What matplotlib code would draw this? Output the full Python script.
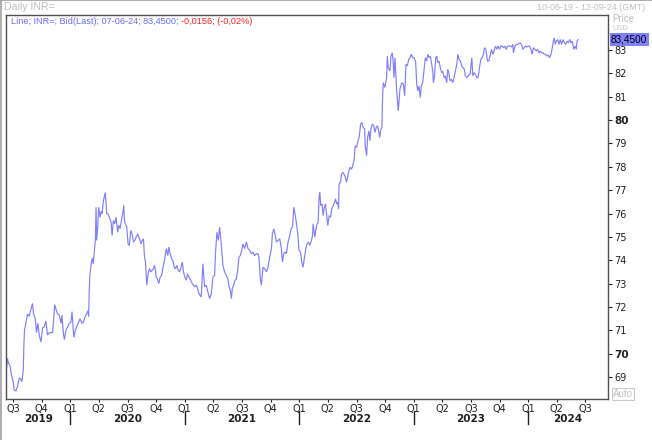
import matplotlib
matplotlib.use("Agg")
import matplotlib.pyplot as plt
import matplotlib.transforms as mtransforms
from datetime import date

# ---------------- data ----------------
title_left = "Daily INR="
title_right = "10-06-19 - 12-09-24 (GMT)"
legend_blue = "Line; INR=; Bid(Last); 07-06-24; 83,4500; "
legend_red = "-0,0156; (-0,02%)"
last_label = "83,4500"
range_start = date(2019, 6, 10)
range_end = date(2024, 9, 12)

# time in decimal years
t = [2019.443, 2019.451, 2019.460, 2019.472, 2019.490, 2019.501, 2019.510, 2019.525, 2019.539, 2019.554,
     2019.569, 2019.577, 2019.589, 2019.595, 2019.600, 2019.612, 2019.626, 2019.641, 2019.656, 2019.670,
     2019.679, 2019.694, 2019.705, 2019.717, 2019.729, 2019.744, 2019.758, 2019.772, 2019.787, 2019.801,
     2019.816, 2019.831, 2019.845, 2019.854, 2019.863, 2019.875, 2019.889, 2019.904, 2019.919, 2019.927,
     2019.939, 2019.948, 2019.962, 2019.976, 2019.991, 2020.006, 2020.015, 2020.026, 2020.032, 2020.044,
     2020.055, 2020.072, 2020.085, 2020.102, 2020.114, 2020.131, 2020.143, 2020.155, 2020.160, 2020.166,
     2020.172, 2020.184, 2020.193, 2020.201, 2020.210, 2020.219, 2020.225, 2020.230, 2020.239, 2020.248,
     2020.260, 2020.271, 2020.278, 2020.289, 2020.300, 2020.306, 2020.318, 2020.327, 2020.341, 2020.356,
     2020.365, 2020.376, 2020.388, 2020.400, 2020.414, 2020.423, 2020.435, 2020.446, 2020.458, 2020.467,
     2020.473, 2020.481, 2020.493, 2020.505, 2020.516, 2020.528, 2020.540, 2020.551, 2020.563, 2020.575,
     2020.589, 2020.604, 2020.619, 2020.628, 2020.639, 2020.648, 2020.657, 2020.668, 2020.680, 2020.691,
     2020.703, 2020.715, 2020.726, 2020.735, 2020.744, 2020.750, 2020.761, 2020.773, 2020.785, 2020.797,
     2020.808, 2020.823, 2020.838, 2020.852, 2020.860, 2020.872, 2020.884, 2020.895, 2020.908, 2020.919,
     2020.930, 2020.943, 2020.954, 2020.965, 2020.978, 2020.989, 2021.000, 2021.013, 2021.024, 2021.035,
     2021.053, 2021.065, 2021.077, 2021.088, 2021.100, 2021.112, 2021.123, 2021.144, 2021.158, 2021.173,
     2021.188, 2021.202, 2021.217, 2021.232, 2021.246, 2021.260, 2021.269, 2021.281, 2021.293, 2021.304,
     2021.313, 2021.322, 2021.333, 2021.348, 2021.363, 2021.377, 2021.386, 2021.398, 2021.407, 2021.415,
     2021.427, 2021.438, 2021.450, 2021.462, 2021.473, 2021.485, 2021.497, 2021.508, 2021.523, 2021.538,
     2021.552, 2021.567, 2021.582, 2021.596, 2021.610, 2021.625, 2021.639, 2021.648, 2021.660, 2021.669,
     2021.683, 2021.698, 2021.713, 2021.727, 2021.742, 2021.757, 2021.765, 2021.777, 2021.788, 2021.800,
     2021.814, 2021.829, 2021.844, 2021.853, 2021.864, 2021.876, 2021.888, 2021.902, 2021.917, 2021.928,
     2021.941, 2021.952, 2021.963, 2021.976, 2021.987, 2021.998, 2022.011, 2022.022, 2022.033, 2022.046,
     2022.057, 2022.068, 2022.081, 2022.092, 2022.107, 2022.116, 2022.121, 2022.136, 2022.151, 2022.165,
     2022.173, 2022.179, 2022.188, 2022.200, 2022.208, 2022.217, 2022.229, 2022.238, 2022.249, 2022.261,
     2022.273, 2022.284, 2022.296, 2022.308, 2022.317, 2022.326, 2022.337, 2022.343, 2022.348, 2022.361,
     2022.369, 2022.383, 2022.398, 2022.413, 2022.427, 2022.442, 2022.457, 2022.471, 2022.480, 2022.488,
     2022.501, 2022.512, 2022.523, 2022.536, 2022.547, 2022.558, 2022.571, 2022.576, 2022.588, 2022.597,
     2022.608, 2022.617, 2022.626, 2022.637, 2022.650, 2022.661, 2022.672, 2022.684, 2022.693, 2022.702,
     2022.713, 2022.722, 2022.728, 2022.734, 2022.748, 2022.763, 2022.769, 2022.777, 2022.792, 2022.801,
     2022.812, 2022.821, 2022.827, 2022.836, 2022.851, 2022.865, 2022.879, 2022.895, 2022.909, 2022.921,
     2022.932, 2022.944, 2022.956, 2022.967, 2022.979, 2022.991, 2023.005, 2023.017, 2023.026, 2023.035,
     2023.046, 2023.057, 2023.066, 2023.078, 2023.090, 2023.101, 2023.113, 2023.122, 2023.134, 2023.145,
     2023.157, 2023.166, 2023.171, 2023.180, 2023.192, 2023.201, 2023.210, 2023.221, 2023.232, 2023.245,
     2023.253, 2023.265, 2023.276, 2023.288, 2023.297, 2023.306, 2023.317, 2023.329, 2023.341, 2023.352,
     2023.364, 2023.376, 2023.385, 2023.396, 2023.407, 2023.420, 2023.431, 2023.442, 2023.451, 2023.463,
     2023.475, 2023.486, 2023.492, 2023.507, 2023.516, 2023.527, 2023.539, 2023.551, 2023.562, 2023.574,
     2023.586, 2023.597, 2023.609, 2023.618, 2023.630, 2023.644, 2023.656, 2023.667, 2023.679, 2023.691,
     2023.702, 2023.714, 2023.726, 2023.737, 2023.749, 2023.761, 2023.772, 2023.784, 2023.796, 2023.807,
     2023.819, 2023.831, 2023.842, 2023.854, 2023.866, 2023.871, 2023.884, 2023.895, 2023.906, 2023.918,
     2023.930, 2023.941, 2023.954, 2023.965, 2023.976, 2023.989, 2024.000, 2024.011, 2024.024, 2024.032,
     2024.046, 2024.059, 2024.070, 2024.081, 2024.094, 2024.105, 2024.116, 2024.129, 2024.140, 2024.151,
     2024.164, 2024.175, 2024.186, 2024.199, 2024.210, 2024.219, 2024.228, 2024.236, 2024.245, 2024.257,
     2024.269, 2024.280, 2024.291, 2024.304, 2024.315, 2024.327, 2024.339, 2024.350, 2024.362, 2024.374,
     2024.385, 2024.397, 2024.409, 2024.420, 2024.426, 2024.435]

price = [69.37, 69.80, 69.60, 69.50, 69.00, 68.80, 68.45, 68.40, 68.60, 68.96,
         68.90, 68.80, 69.30, 70.44, 71.00, 71.30, 71.70, 71.60, 71.90, 72.15,
         71.70, 71.50, 70.90, 71.30, 70.80, 70.50, 71.10, 71.15, 71.40, 70.80,
         70.90, 70.90, 70.90, 71.40, 72.10, 71.90, 71.70, 71.65, 71.30, 71.65,
         70.90, 70.60, 71.00, 71.15, 71.30, 71.35, 71.80, 71.00, 70.70, 71.00,
         71.15, 71.35, 71.50, 71.30, 71.35, 71.60, 71.70, 71.85, 71.60, 72.80,
         73.40, 73.90, 74.10, 73.85, 74.40, 74.85, 76.27, 74.85, 75.40, 76.27,
         75.84, 76.10, 76.00, 76.55, 76.77, 76.90, 76.00, 76.00, 75.85, 75.63,
         75.06, 75.70, 75.56, 75.84, 75.20, 75.50, 75.35, 75.70, 76.00, 76.35,
         75.70, 75.56, 75.42, 74.70, 74.63, 75.27, 75.13, 74.78, 74.85, 74.99,
         75.13, 74.92, 74.70, 74.85, 74.92, 74.14, 73.92, 72.93, 73.43, 73.64,
         73.50, 73.57, 73.64, 73.78, 73.57, 73.28, 73.20, 73.00, 73.28, 73.35,
         73.64, 74.00, 74.50, 74.20, 74.57, 74.28, 74.07, 74.00, 73.70, 73.64,
         73.78, 73.57, 73.50, 73.64, 73.92, 73.50, 73.28, 73.14, 73.43, 73.28,
         73.14, 73.00, 72.93, 72.86, 72.93, 72.79, 72.57, 72.43, 73.85, 72.86,
         72.93, 72.64, 72.36, 72.57, 73.28, 73.35, 74.35, 75.20, 74.85, 75.42,
         74.99, 74.50, 73.78, 73.50, 73.35, 73.20, 72.86, 72.71, 72.36, 72.79,
         72.93, 73.14, 73.20, 73.57, 74.14, 74.20, 74.42, 74.70, 74.50, 74.78,
         74.50, 74.42, 74.28, 74.35, 74.20, 74.28, 74.28, 74.14, 73.20, 72.93,
         73.70, 73.64, 73.50, 73.70, 74.14, 74.50, 75.13, 75.35, 75.13, 74.78,
         74.85, 74.92, 74.50, 73.92, 74.28, 74.35, 74.28, 74.78, 75.06, 75.35,
         75.42, 76.27, 75.98, 75.56, 75.13, 74.42, 74.35, 73.92, 73.70, 74.14,
         74.50, 74.70, 74.78, 74.63, 74.85, 75.06, 75.56, 74.99, 75.49, 75.63,
         76.70, 76.90, 76.34, 76.41, 75.91, 76.20, 76.41, 75.99, 75.49, 75.91,
         75.84, 76.20, 76.34, 76.48, 76.63, 76.41, 76.48, 76.20, 77.27, 77.34,
         77.69, 77.76, 77.62, 77.34, 77.69, 77.98, 77.90, 78.12, 78.33, 78.90,
         78.83, 79.12, 79.26, 79.83, 79.90, 79.68, 79.62, 78.90, 78.48, 79.26,
         79.54, 79.12, 79.62, 79.83, 79.76, 79.47, 79.68, 79.76, 79.54, 79.26,
         79.62, 79.68, 81.04, 81.60, 81.40, 81.82, 82.74, 82.24, 82.10, 82.74,
         82.88, 82.46, 81.82, 82.67, 81.25, 80.40, 81.32, 81.60, 81.54, 81.04,
         82.39, 82.32, 82.60, 82.67, 82.82, 82.67, 82.67, 82.46, 81.54, 81.25,
         81.46, 80.96, 81.46, 81.60, 82.18, 82.67, 82.53, 82.82, 82.67, 82.74,
         82.39, 82.10, 81.60, 81.82, 82.67, 82.74, 82.46, 82.53, 82.24, 82.03,
         82.10, 81.82, 81.89, 81.60, 82.18, 82.03, 81.68, 81.75, 81.60, 81.82,
         82.10, 82.39, 82.82, 82.60, 82.53, 82.32, 82.24, 82.18, 81.89, 81.82,
         81.89, 81.96, 81.96, 82.67, 81.89, 82.03, 81.96, 81.82, 81.82, 82.24,
         82.60, 82.67, 82.82, 83.10, 83.03, 82.53, 82.53, 82.74, 83.03, 82.82,
         82.96, 83.17, 83.03, 83.17, 83.03, 83.17, 83.17, 83.10, 83.17, 83.03,
         83.17, 83.17, 83.17, 83.13, 83.24, 82.88, 83.17, 83.24, 83.24, 83.27,
         83.31, 83.24, 83.03, 83.10, 83.17, 83.13, 83.17, 83.17, 83.03, 82.82,
         83.10, 83.03, 82.96, 83.03, 82.88, 82.96, 82.88, 82.88, 82.82, 82.82,
         82.74, 82.79, 82.67, 82.82, 83.10, 83.38, 83.52, 83.24, 83.38, 83.45,
         83.24, 83.45, 83.24, 83.45, 83.31, 83.24, 83.38, 83.31, 83.45, 83.31,
         83.38, 83.03, 83.17, 83.03, 83.38, 83.45]

y_ticks = [69, 70, 71, 72, 73, 74, 75, 76, 77, 78, 79, 80, 81, 82, 83]
y_bold = [70, 80]
years = [2019, 2020, 2021, 2022, 2023, 2024]
quarters = ["Q1", "Q2", "Q3", "Q4"]

# ---------------- helpers ----------------
def dec_year(d):
    y0 = date(d.year, 1, 1)
    y1 = date(d.year + 1, 1, 1)
    return d.year + (d - y0).days / (y1 - y0).days

plt.rcParams['font.family'] = ['DejaVu Sans']
NARROW = ['Liberation Sans', 'DejaVu Sans']
W, H = 652, 440
fig = plt.figure(figsize=(W / 100, H / 100), dpi=100)
fig.patch.set_facecolor('white')

L, R, T, B = 6, 608, 15, 399
ax = fig.add_axes([L / W, 1 - B / H, (R - L) / W, (B - T) / H])
line_color = '#7f7fff'
ax.plot(t, price, color=line_color, lw=0.85, solid_joinstyle='miter')

x0, x1 = dec_year(range_start), dec_year(range_end)
ax.set_xlim(x0, x1)
ax.set_ylim(68.06, 84.5)

for s in ax.spines.values():
    s.set_color('#505050')
    s.set_linewidth(1.0)

# y axis on right
ax.yaxis.tick_right()
ax.set_yticks(y_ticks)
ax.set_yticklabels([str(v) for v in y_ticks])
ax.tick_params(axis='y', direction='out', length=3, width=0.8, colors='#202020',
               labelsize=7, pad=1.5)
for lab, v in zip(ax.get_yticklabels(), y_ticks):
    if v in y_bold:
        lab.set_fontweight('bold')
        lab.set_fontsize(7.5)

# x axis: quarter ticks
q_pos, q_lab = [], []
for yr in years + [2025]:
    for qi, q in enumerate(quarters):
        p = yr + qi * 0.25
        if x0 <= p <= x1:
            q_pos.append(p)
            q_lab.append(q)
ax.set_xticks(q_pos)
ax.set_xticklabels(q_lab)
ax.tick_params(axis='x', direction='out', length=2, width=0.8, colors='#202020',
               labelsize=7, pad=1.5)

# year labels & separators
trans = mtransforms.blended_transform_factory(ax.transData, fig.transFigure)
for yr in years:
    a, b = max(yr, x0), min(yr + 1, x1)
    ax.text((a + b) / 2, 1 - 419 / H, str(yr), transform=trans, ha='center', va='center',
            fontsize=7.5, fontweight='bold', color='#202020')
    if x0 < yr < x1:
        ax.plot([yr, yr], [1 - 411 / H, 1 - 424 / H], transform=trans, color='#202020',
                lw=1.0, clip_on=False)

# header texts
fig.text(4 / W, 1 - 7 / H, title_left, fontsize=7.6, family=NARROW, color='#c0c0c0',
         ha='left', va='center')
fig.text(645 / W, 1 - 7 / H, title_right, fontsize=6.4, family=NARROW, color='#c0c0c0',
         ha='right', va='center')

# legend line
tb = fig.text(11 / W, 1 - 22 / H, legend_blue, fontsize=6.6, family=NARROW, color='#6a6aff',
              ha='left', va='center')
fig.canvas.draw()
bb = tb.get_window_extent()
fig.text(bb.x1 / W, 1 - 22 / H, legend_red, fontsize=6.6, family=NARROW, color='#ff2020',
         ha='left', va='center')

# price axis header
fig.text(612 / W, 1 - 19 / H, "Price", fontsize=7, family=NARROW, color='#c0c0c0',
         ha='left', va='center')
fig.text(612 / W, 1 - 29 / H, "USD", fontsize=5.5, family=NARROW, color='#c8c8c8',
         ha='left', va='center')

# last value box
ytr = mtransforms.blended_transform_factory(fig.transFigure, ax.transData)
ax.text(611 / W, price[-1], last_label, transform=ytr, fontsize=7.2, family=NARROW, color='black',
        ha='left', va='center', zorder=5,
        bbox=dict(boxstyle='square,pad=0.12', facecolor='#8080ff', edgecolor='none'))

# Auto button
fig.text(613 / W, 1 - 394 / H, "Auto", fontsize=7, family=NARROW, color='#c0c0c0',
         ha='left', va='center',
         bbox=dict(boxstyle='square,pad=0.15', facecolor='white', edgecolor='#c8c8c8', lw=0.8))

# outer grey frame (left, top)
fig.add_artist(plt.Line2D([0.5 / W, 0.5 / W], [0, 1], transform=fig.transFigure, color='#a0a0a0', lw=1.2))
fig.add_artist(plt.Line2D([0, 1], [1 - 0.5 / H, 1 - 0.5 / H], transform=fig.transFigure, color='#a0a0a0', lw=1.2))

fig.savefig('out.png', dpi=100)
